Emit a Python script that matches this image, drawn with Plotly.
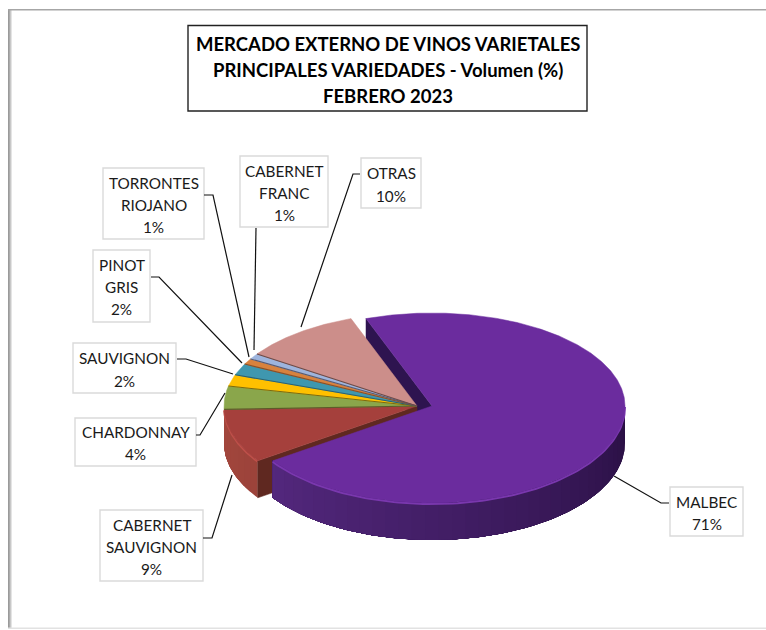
import numpy as np
import plotly.graph_objects as go

# ---- data ----
categories = ["MALBEC", "CABERNET SAUVIGNON", "CHARDONNAY", "SAUVIGNON", "PINOT GRIS",
              "TORRONTES RIOJANO", "CABERNET FRANC", "OTRAS"]
values = [71, 9, 4, 2, 2, 1, 1, 10]
label_lines = [["MALBEC"], ["CABERNET", "SAUVIGNON"], ["CHARDONNAY"], ["SAUVIGNON"], ["PINOT", "GRIS"],
               ["TORRONTES", "RIOJANO"], ["CABERNET", "FRANC"], ["OTRAS"]]
top_colors = ["#6B2C9E", "#A5403C", "#8AA64B", "#FFC000", "#3F97AF", "#D8823E", "#9DB4DD", "#CC8E8A"]
edge_colors = ["#2E1248", "#5F2820", "#5E5A2A", "#7A6A10", "#2A6070", "#8A5028", "#5A5A70", "#6A4A48"]
title_lines = ["MERCADO EXTERNO DE VINOS VARIETALES", "PRINCIPALES VARIEDADES - Volumen (%)", "FEBRERO 2023"]

# ---- geometry of the drawing ----
FONT = "Lato"
START = 340.0
CX, CY = 417.0, 406.0
EXPLODE_DX = 15.0
A, B_BACK, B_FRONT = 193.0, 93.0, 97.0
DEPTH = 37.0

# label box (x0, x1, y0, y1), text line centres
boxes = [(670, 743, 487, 536, [502, 524]),
         (100, 203, 510, 581, [525, 547, 569]),
         (75, 196, 418, 466, [432, 454]),
         (73, 176, 343, 393, [358, 381]),
         (93, 150, 250, 322, [265, 287, 309]),
         (103, 204, 168, 239, [183, 205, 227]),
         (240, 328, 156, 227, [171, 193, 215]),
         (361, 421, 158, 208, [173, 196])]
leaders = [[(614, 476), (661, 503), (669, 503)],
           [(232, 475), (212, 538), (203, 538)],
           [(225, 393), (200, 435), (196, 435)],
           [(177, 359), (186, 359), (233, 374)],
           [(151, 277), (159, 277), (242, 363)],
           [(204, 195), (213, 195), (249, 357)],
           [(256, 228), (254, 350)],
           [(360, 174), (353, 174), (301, 327)]]


def pt(theta, cx):
    t = np.radians(theta)
    b = np.where(np.cos(t) > 0, B_BACK, B_FRONT)
    return cx + A * np.sin(t), CY - b * np.cos(t)


def hex2rgb(h):
    return np.array([int(h[i:i + 2], 16) for i in (1, 3, 5)], float)


def mix(c1, c2, f):
    r = hex2rgb(c1) * (1 - f) + hex2rgb(c2) * f
    return "rgb(%d,%d,%d)" % tuple(r)


fig = go.Figure()


def poly(xs, ys, color, lw=0.5):
    fig.add_trace(go.Scatter(x=list(xs), y=list(ys), mode="lines", fill="toself", fillcolor=color,
                             line=dict(color=color, width=lw), hoverinfo="skip", showlegend=False))


def line(xs, ys, color, w):
    fig.add_trace(go.Scatter(x=list(xs), y=list(ys), mode="lines", line=dict(color=color, width=w),
                             hoverinfo="skip", showlegend=False))


spans = []
a0 = START
for v in values:
    a1 = a0 + v * 3.6
    spans.append((a0, a1))
    a0 = a1


def top(i, cx):
    s, e = spans[i]
    th = np.linspace(s, e, max(4, int(e - s) * 2))
    x, y = pt(th, cx)
    poly([cx, *x, cx], [CY, *y, CY], top_colors[i])


def wall(theta, cx, color):
    x, y = pt(np.array([theta]), cx)
    poly([cx, x[0], x[0], cx, cx], [CY, y[0], y[0] + DEPTH, CY + DEPTH, CY], color)


def rim(i, cx, c_from, c_to, highlight):
    s, e = spans[i]
    s, e = s % 360, (e % 360) or 360
    # only the front half of the disc shows its side
    lo, hi = max(90, min(s, e)), min(270, max(s, e))
    if i == 0:
        lo, hi = 90, (START + values[0] * 3.6) % 360
    edges = np.arange(lo, hi, 4.0).tolist() + [hi]
    # shading bands, each overlapped by the next so no seam shows
    for k in range(len(edges) - 1):
        th = np.linspace(edges[k], hi, max(3, int(hi - edges[k])))
        x, y = pt(th, cx)
        f = (edges[k] - 90) / 180.0
        poly([*x, *x[::-1]], [*y, *(y[::-1] + DEPTH)], mix(c_from, c_to, f), 0)
    th = np.linspace(lo, hi, 100)
    x, y = pt(th, cx)
    line(x, y + 1, highlight, 2)


# back wall of the pulled-out slice, then the rest of the pie, then the pulled-out slice
wall(START, CX + EXPLODE_DX, "#2E1450")
rim(1, CX, "#7A3028", "#A5483F", "#BE504A")
wall(spans[1][0], CX, edge_colors[1])
for i in range(1, len(values)):
    top(i, CX)
for i in range(2, len(values)):
    x, y = pt(np.array([spans[i][0]]), CX)
    line([CX, x[0]], [CY, y[0]], edge_colors[i], 1.1)
rim(0, CX + EXPLODE_DX, "#2A1044", "#5E2E8C", "#7A38AE")
top(0, CX + EXPLODE_DX)

# leader lines
for pts in leaders:
    line([p[0] for p in pts], [p[1] for p in pts], "#111111", 1.2)

shapes = []
annotations = []


def rect(x0, x1, y0, y1, fill=None, color=None, w=1):
    shapes.append(dict(type="rect", xref="x", yref="y", x0=x0, x1=x1, y0=y0, y1=y1,
                       fillcolor=fill or "rgba(0,0,0,0)",
                       line=dict(color=color or "rgba(0,0,0,0)", width=w if color else 0), layer="below"))


# chart frame
for k, col in enumerate(["#9A9A9A", "#ABABAB", "#C8C8C8", "#E4E4E4"]):
    rect(8 + k, 9 + k, 9, 628, fill=col)
rect(8, 766, 9, 10.5, fill="#A6A6A6")
rect(8, 766, 627.5, 629, fill="#E2E2E2")

# title box
rect(188, 587, 25.5, 111, fill="#FFFFFF", color="#222222", w=1.4)
for txt, yy in zip(title_lines, [44, 70, 96]):
    annotations.append(dict(x=387.5, y=yy, xref="x", yref="y", text="<b>%s</b>" % txt, showarrow=False,
                            font=dict(family=FONT, size=18.5, color="#000000"), xanchor="center", yanchor="middle"))

# data labels
for lines, v, (x0, x1, y0, y1, ys) in zip(label_lines, values, boxes):
    rect(x0, x1, y0, y1, fill="#FFFFFF", color="#DADADA", w=1.4)
    for txt, yy in zip(lines + ["%d%%" % v], ys):
        annotations.append(dict(x=(x0 + x1) / 2, y=yy, xref="x", yref="y", text=txt, showarrow=False,
                                font=dict(family=FONT, size=15.3, color="#1A1A1A"),
                                xanchor="center", yanchor="middle"))

fig.update_layout(
    width=766, height=630, margin=dict(l=0, r=0, t=0, b=0), autosize=False,
    paper_bgcolor="#FFFFFF", plot_bgcolor="#FFFFFF", showlegend=False,
    xaxis=dict(range=[0, 766], visible=False, domain=[0, 1], fixedrange=True),
    yaxis=dict(range=[630, 0], visible=False, domain=[0, 1], fixedrange=True),
    shapes=shapes, annotations=annotations,
)
fig.write_html("out.html", config={"displayModeBar": False},
               post_script="document.body.style.margin='0';document.body.style.overflow='hidden';")
